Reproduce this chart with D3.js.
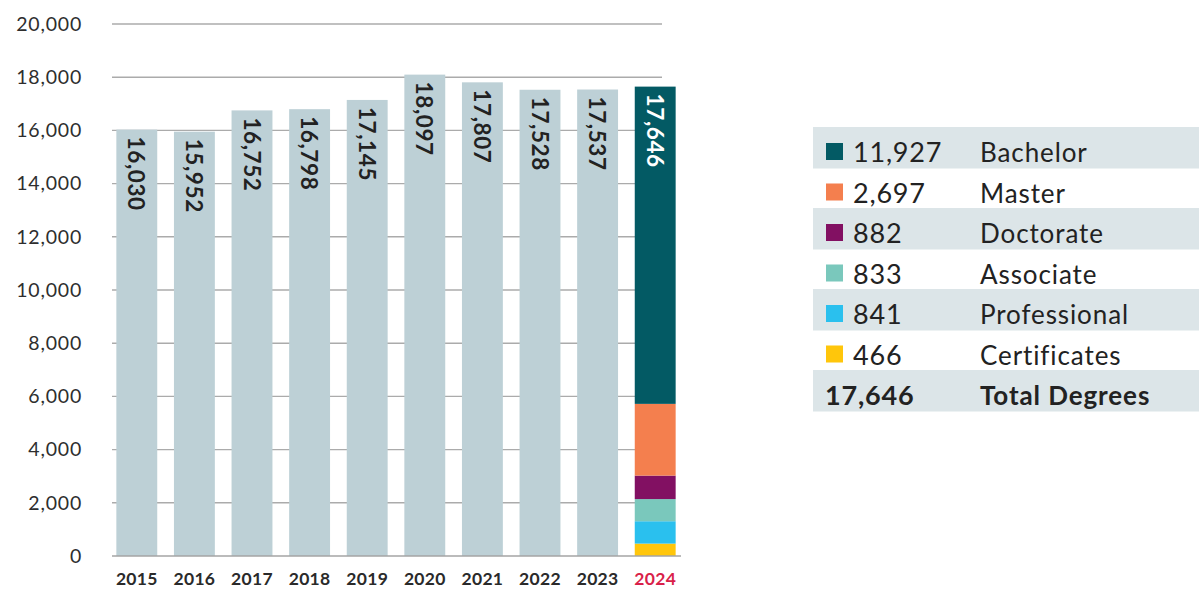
<!DOCTYPE html>
<html>
<head>
<meta charset="utf-8">
<script src="https://cdn.jsdelivr.net/npm/d3@7"></script>
<style>
  body { margin: 0; background: #fff; font-family: Lato, "Open Sans", sans-serif; }
  svg text { font-family: Lato, "Open Sans", sans-serif; }
</style>
</head>
<body>
<div id="chart"></div>
<script>
// ==== Data ====
const years = ["2015", "2016", "2017", "2018", "2019", "2020", "2021", "2022", "2023", "2024"];
const totals = [16030, 15952, 16752, 16798, 17145, 18097, 17807, 17528, 17537, 17646];

// 2024 breakdown (top of stack first, same order as the legend)
const degreeTypes = ["Bachelor", "Master", "Doctorate", "Associate", "Professional", "Certificates"];
const degrees2024 = [11927, 2697, 882, 833, 841, 466];
const degreeColors = ["#035a64", "#f47f4e", "#821062", "#7ac8bc", "#2ac0ee", "#ffc60b"];
const totalLabel = "Total Degrees";

const yTicks = [0, 2000, 4000, 6000, 8000, 10000, 12000, 14000, 16000, 18000, 20000];

// ==== Setup ====
const width = 1199, height = 589;
const svg = d3.select("#chart").append("svg")
  .attr("width", width)
  .attr("height", height);

const fmt = d3.format(",");

const x = d3.scaleBand().domain(years).range([108, 684]).paddingInner(0.29).paddingOuter(0.145);
const y = d3.scaleLinear().domain([0, 20000]).range([556, 24]);

// gridlines (behind bars)
svg.append("g").selectAll("line")
  .data(yTicks.filter(d => d > 0))
  .join("line")
  .attr("x1", 112).attr("x2", 662)
  .attr("y1", d => y(d)).attr("y2", d => y(d))
  .attr("stroke", "#ababab").attr("stroke-width", 1.4);

// y axis labels
const yAxis = svg.append("g")
  .attr("transform", "translate(82,0)")
  .call(d3.axisLeft(y).tickValues(yTicks).tickSize(0).tickPadding(0).tickFormat(fmt));
yAxis.select(".domain").remove();
yAxis.selectAll("text")
  .attr("font-size", 19.5)
  .attr("letter-spacing", 0.8)
  .attr("fill", "#2e2e2e");

// grey bars for earlier years
const lastYear = years[years.length - 1];
svg.append("g").selectAll("rect")
  .data(years.slice(0, -1))
  .join("rect")
  .attr("x", d => x(d))
  .attr("width", x.bandwidth())
  .attr("y", (d, i) => y(totals[i]))
  .attr("height", (d, i) => y(0) - y(totals[i]))
  .attr("fill", "#bdd0d6");

// stacked 2024 bar, bottom segment is the last category
let acc = 0;
const stack = degreeTypes.map((name, i) => ({ name, value: degrees2024[i], color: degreeColors[i] })).reverse()
  .map(d => { const s = { ...d, y0: acc, y1: acc + d.value }; acc += d.value; return s; });

svg.append("g").selectAll("rect")
  .data(stack)
  .join("rect")
  .attr("x", x(lastYear))
  .attr("width", x.bandwidth())
  .attr("y", d => y(d.y1))
  .attr("height", d => y(d.y0) - y(d.y1))
  .attr("fill", d => d.color);

// baseline
svg.append("line")
  .attr("x1", 112).attr("x2", 681)
  .attr("y1", y(0)).attr("y2", y(0))
  .attr("stroke", "#a5a5a5").attr("stroke-width", 1.6);

// rotated value labels inside bars
svg.append("g").selectAll("text")
  .data(years)
  .join("text")
  .attr("transform", (d, i) => `translate(${x(d) + x.bandwidth() / 2},${y(totals[i]) + 7}) rotate(90)`)
  .attr("dominant-baseline", "central")
  .attr("font-size", 22.5)
  .attr("font-weight", 700)
  .attr("letter-spacing", 0.6)
  .attr("fill", d => d === lastYear ? "#fff" : "#222")
  .text((d, i) => fmt(totals[i]));

// x axis labels
svg.append("g").selectAll("text")
  .data(years)
  .join("text")
  .attr("x", d => x(d) + x.bandwidth() / 2)
  .attr("y", 585)
  .attr("text-anchor", "middle")
  .attr("font-size", 17.5)
  .attr("font-weight", 700)
  .attr("letter-spacing", 0.3)
  .attr("fill", d => d === lastYear ? "#d91f4a" : "#2a2a2a")
  .text(d => d);

// ==== Legend table ====
const rowH = 40.5;
const legTop = 127;
const legendRows = degreeTypes.map((name, i) => ({ name, value: degrees2024[i], color: degreeColors[i] }));
legendRows.push({ name: totalLabel, value: d3.sum(degrees2024), color: null, total: true });

const rows = svg.append("g").selectAll("g")
  .data(legendRows)
  .join("g")
  .attr("transform", (d, i) => `translate(0,${legTop + i * rowH})`);

rows.filter((d, i) => i % 2 === 0)
  .append("rect")
  .attr("x", 813).attr("width", 386)
  .attr("y", 0).attr("height", 41.5)
  .attr("fill", "#dce5e8");

rows.filter(d => d.color)
  .append("rect")
  .attr("x", 826).attr("y", 16)
  .attr("width", 17).attr("height", 17)
  .attr("fill", d => d.color);

rows.append("text")
  .attr("x", d => d.total ? 825 : 853)
  .attr("y", 35)
  .attr("font-size", 27)
  .attr("font-weight", d => d.total ? 700 : 400)
  .attr("letter-spacing", 0.8)
  .attr("fill", "#222")
  .text(d => fmt(d.value));

rows.append("text")
  .attr("x", 980)
  .attr("y", 35)
  .attr("font-size", 26)
  .attr("font-weight", d => d.total ? 700 : 400)
  .attr("letter-spacing", 0.9)
  .attr("fill", "#222")
  .text(d => d.name);
</script>
</body>
</html>
